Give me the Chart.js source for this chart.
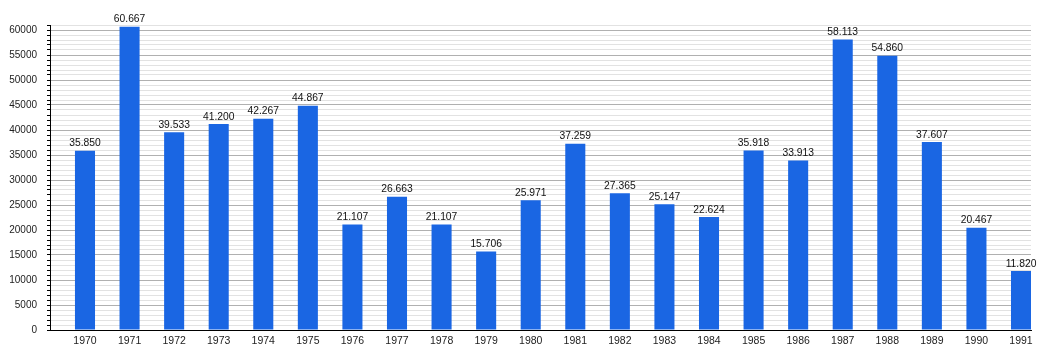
<!DOCTYPE html>
<html>
<head>
<meta charset="utf-8">
<script src="https://cdn.jsdelivr.net/npm/chart.js@4"></script>
<style>
  html, body { margin: 0; padding: 0; background: #fff; }
  #wrap { width: 1050px; height: 360px; }
</style>
</head>
<body>
<div id="wrap"><canvas id="c" width="1050" height="360"></canvas></div>
<script>
const years = ['1970','1971','1972','1973','1974','1975','1976','1977','1978','1979','1980','1981','1982','1983','1984','1985','1986','1987','1988','1989','1990','1991'];
const values = [35850, 60667, 39533, 41200, 42267, 44867, 21107, 26663, 21107, 15706, 25971, 37259, 27365, 25147, 22624, 35918, 33913, 58113, 54860, 37607, 20467, 11820];
const yMax = 61000;
const yStep = 1000;
const yLabelStep = 5000;

const FONT = '"Liberation Sans", Arial, sans-serif';

const valueLabels = {
  id: 'valueLabels',
  afterDatasetsDraw(chart) {
    const ctx = chart.ctx;
    const meta = chart.getDatasetMeta(0);
    ctx.save();
    ctx.font = '10.3px ' + FONT;
    ctx.fillStyle = '#111';
    ctx.textAlign = 'center';
    ctx.textBaseline = 'bottom';
    meta.data.forEach((bar, i) => {
      const txt = (values[i] / 1000).toFixed(3);
      ctx.fillText(txt, bar.x, bar.y - 2);
    });
    ctx.restore();
  }
};

new Chart(document.getElementById('c'), {
  type: 'bar',
  data: {
    datasets: [{
      data: values.map((v, i) => ({ x: i, y: v })),
      backgroundColor: '#1a66e3',
      borderWidth: 0,
      barPercentage: 0.45,
      categoryPercentage: 1.0
    }]
  },
  options: {
    responsive: false,
    animation: false,
    layout: { padding: { top: 25, right: 19, left: 0, bottom: 0 } },
    plugins: { legend: { display: false }, tooltip: { enabled: false } },
    scales: {
      x: {
        type: 'linear',
        offset: false,
        min: -0.785,
        max: 21.224,
        grid: { display: false, drawTicks: false },
        border: { color: '#000', width: 1 },
        afterBuildTicks(s) { s.ticks = years.map((_, i) => ({ value: i })); },
        ticks: {
          color: '#222',
          font: { family: FONT, size: 10.5 },
          padding: 5,
          maxRotation: 0,
          autoSkip: false,
          callback: (v) => years[v]
        },
        afterFit(s) { s.height = 30; }
      },
      y: {
        min: 0,
        max: yMax,
        border: { color: '#000', width: 1 },
        grid: {
          color: (c) => (c.tick && c.tick.value % yLabelStep === 0) ? '#b0b0b0' : '#e2e2e2',
          tickColor: '#000',
          tickLength: 3,
          drawTicks: true
        },
        ticks: {
          stepSize: yStep,
          autoSkip: false,
          color: '#222',
          font: { family: FONT, size: 10 },
          padding: 10,
          callback: (v) => (v % yLabelStep === 0 ? String(v) : '')
        },
        afterFit(s) { s.width = 50; }
      }
    }
  },
  plugins: [valueLabels]
});
</script>
</body>
</html>
